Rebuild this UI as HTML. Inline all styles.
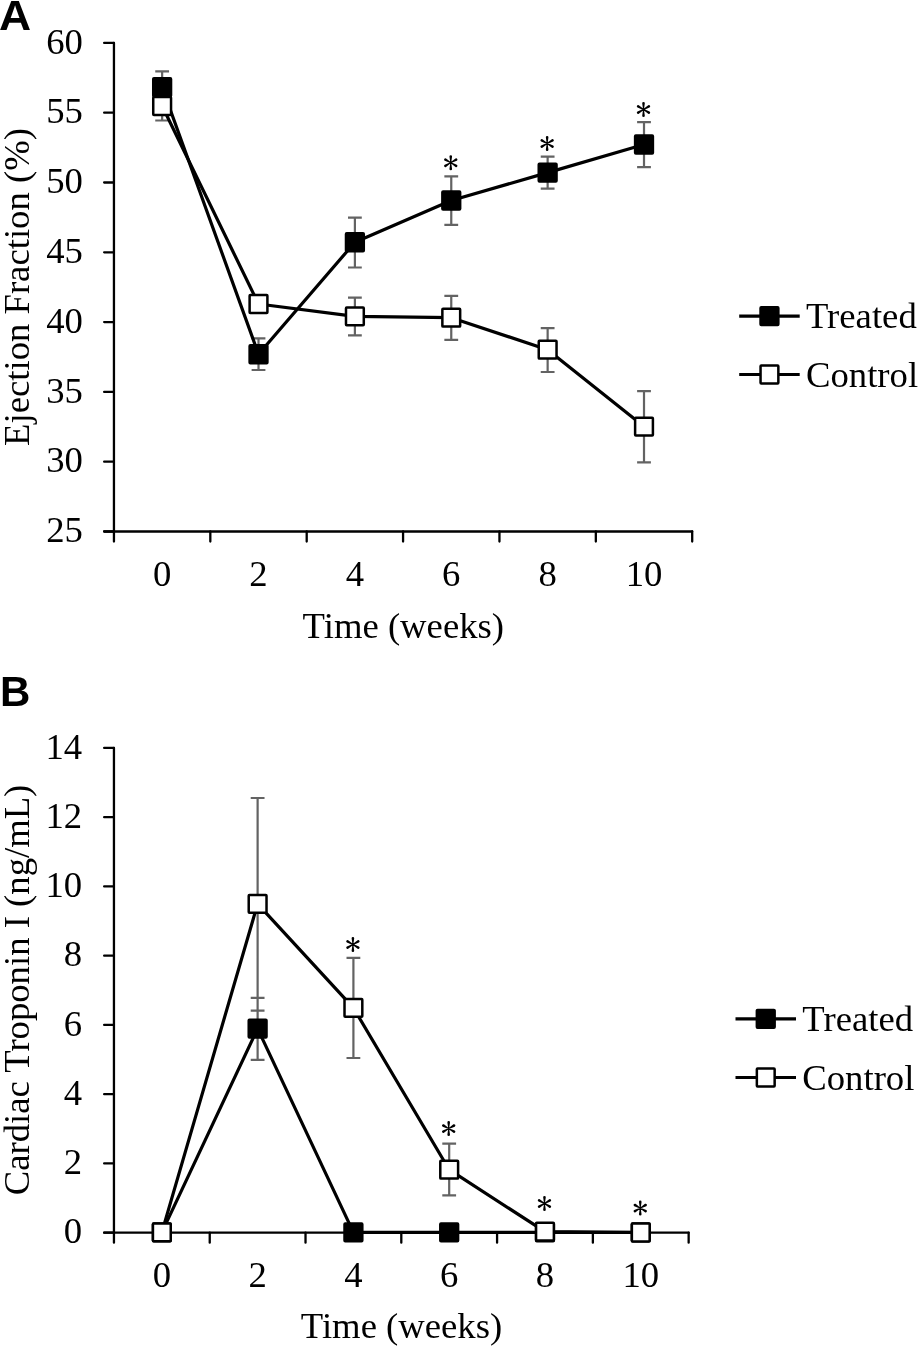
<!DOCTYPE html>
<html><head><meta charset="utf-8"><style>
html,body{margin:0;padding:0;background:#fff;}
body{width:918px;height:1347px;overflow:hidden;position:relative;}
svg{position:absolute;left:0;top:0;will-change:transform;}
.t{font-family:"Liberation Serif",serif;font-size:36.7px;fill:#000;}
.lab{font-family:"Liberation Sans",sans-serif;font-weight:bold;font-size:42px;fill:#000;}
</style></head><body>
<svg width="918" height="1347" viewBox="0 0 918 1347">
<text transform="translate(-0.9 30) scale(1.06 1)" class="lab">A</text>
<text x="0.1" y="706.1" class="lab">B</text>
<path d="M113.95 42.9V531.5M104.15 531.5H692.2" fill="none" stroke="#000" stroke-width="2.3" stroke-linecap="round" stroke-linejoin="round"/>
<path d="M104.15 531.50H113.95M104.15 461.70H113.95M104.15 391.90H113.95M104.15 322.10H113.95M104.15 252.30H113.95M104.15 182.50H113.95M104.15 112.70H113.95M104.15 42.90H113.95M113.95 531.5V541.5M210.32 531.5V541.5M306.70 531.5V541.5M403.07 531.5V541.5M499.45 531.5V541.5M595.83 531.5V541.5M692.20 531.5V541.5" fill="none" stroke="#000" stroke-width="2.3" stroke-linecap="round" stroke-linejoin="round"/>
<text x="82.9" y="542.20" text-anchor="end" class="t">25</text>
<text x="82.9" y="472.40" text-anchor="end" class="t">30</text>
<text x="82.9" y="402.60" text-anchor="end" class="t">35</text>
<text x="82.9" y="332.80" text-anchor="end" class="t">40</text>
<text x="82.9" y="263.00" text-anchor="end" class="t">45</text>
<text x="82.9" y="193.20" text-anchor="end" class="t">50</text>
<text x="82.9" y="123.40" text-anchor="end" class="t">55</text>
<text x="82.9" y="53.60" text-anchor="end" class="t">60</text>
<text x="162.14" y="585.7" text-anchor="middle" class="t">0</text>
<text x="258.51" y="585.7" text-anchor="middle" class="t">2</text>
<text x="354.89" y="585.7" text-anchor="middle" class="t">4</text>
<text x="451.26" y="585.7" text-anchor="middle" class="t">6</text>
<text x="547.64" y="585.7" text-anchor="middle" class="t">8</text>
<text x="644.01" y="585.7" text-anchor="middle" class="t">10</text>
<path d="M162.14 106.00V120.50M155.24 120.50h13.8M354.89 316.35V297.70M347.99 297.70h13.8M354.89 316.35V335.30M347.99 335.30h13.8M451.26 317.70V295.80M444.36 295.80h13.8M451.26 317.70V339.90M444.36 339.90h13.8M547.64 349.70V328.20M540.74 328.20h13.8M547.64 349.70V372.00M540.74 372.00h13.8M644.01 426.60V391.20M637.11 391.20h13.8M644.01 426.60V462.30M637.11 462.30h13.8M162.14 87.20V71.40M155.24 71.40h13.8M258.51 354.25V338.40M251.61 338.40h13.8M258.51 354.25V370.00M251.61 370.00h13.8M354.89 242.25V217.60M347.99 217.60h13.8M354.89 242.25V267.50M347.99 267.50h13.8M451.26 200.50V176.40M444.36 176.40h13.8M451.26 200.50V224.80M444.36 224.80h13.8M547.64 172.60V156.70M540.74 156.70h13.8M547.64 172.60V188.60M540.74 188.60h13.8M644.01 144.50V122.20M637.11 122.20h13.8M644.01 144.50V167.20M637.11 167.20h13.8" fill="none" stroke="#636363" stroke-width="2.2"/>
<polyline points="162.14,87.20 258.51,354.25 354.89,242.25 451.26,200.50 547.64,172.60 644.01,144.50" fill="none" stroke="#000" stroke-width="3.2" stroke-linejoin="round"/>
<polyline points="162.14,106.00 258.51,304.00 354.89,316.35 451.26,317.70 547.64,349.70 644.01,426.60" fill="none" stroke="#000" stroke-width="3.2" stroke-linejoin="round"/>
<rect x="153.24" y="78.30" width="17.8" height="17.8" rx="0.7" fill="#000" stroke="#000" stroke-width="2.5"/>
<rect x="249.61" y="345.35" width="17.8" height="17.8" rx="0.7" fill="#000" stroke="#000" stroke-width="2.5"/>
<rect x="345.99" y="233.35" width="17.8" height="17.8" rx="0.7" fill="#000" stroke="#000" stroke-width="2.5"/>
<rect x="442.36" y="191.60" width="17.8" height="17.8" rx="0.7" fill="#000" stroke="#000" stroke-width="2.5"/>
<rect x="538.74" y="163.70" width="17.8" height="17.8" rx="0.7" fill="#000" stroke="#000" stroke-width="2.5"/>
<rect x="635.11" y="135.60" width="17.8" height="17.8" rx="0.7" fill="#000" stroke="#000" stroke-width="2.5"/>
<rect x="153.24" y="97.10" width="17.8" height="17.8" rx="0.7" fill="#fff" stroke="#000" stroke-width="2.5"/>
<rect x="249.61" y="295.10" width="17.8" height="17.8" rx="0.7" fill="#fff" stroke="#000" stroke-width="2.5"/>
<rect x="345.99" y="307.45" width="17.8" height="17.8" rx="0.7" fill="#fff" stroke="#000" stroke-width="2.5"/>
<rect x="442.36" y="308.80" width="17.8" height="17.8" rx="0.7" fill="#fff" stroke="#000" stroke-width="2.5"/>
<rect x="538.74" y="340.80" width="17.8" height="17.8" rx="0.7" fill="#fff" stroke="#000" stroke-width="2.5"/>
<rect x="635.11" y="417.70" width="17.8" height="17.8" rx="0.7" fill="#fff" stroke="#000" stroke-width="2.5"/>
<path d="M451.21 162.70L452.06 156.50A1.30 1.30 0 0 0 449.46 156.50L450.31 162.70ZM450.31 162.70L449.46 168.90A1.30 1.30 0 0 0 452.06 168.90L451.21 162.70ZM450.99 163.09L456.78 160.73A1.30 1.30 0 0 0 455.48 158.47L450.54 162.31ZM450.54 162.31L444.74 164.67A1.30 1.30 0 0 0 446.04 166.93L450.99 163.09ZM450.54 163.09L455.48 166.93A1.30 1.30 0 0 0 456.78 164.67L450.99 162.31ZM450.99 162.31L446.04 158.47A1.30 1.30 0 0 0 444.74 160.73L450.54 163.09Z" fill="#000"/>
<path d="M547.59 143.50L548.44 137.30A1.30 1.30 0 0 0 545.84 137.30L546.69 143.50ZM546.69 143.50L545.84 149.70A1.30 1.30 0 0 0 548.44 149.70L547.59 143.50ZM547.36 143.89L553.16 141.53A1.30 1.30 0 0 0 551.86 139.27L546.91 143.11ZM546.91 143.11L541.12 145.47A1.30 1.30 0 0 0 542.42 147.73L547.36 143.89ZM546.91 143.89L551.86 147.73A1.30 1.30 0 0 0 553.16 145.47L547.36 143.11ZM547.36 143.11L542.42 139.27A1.30 1.30 0 0 0 541.12 141.53L546.91 143.89Z" fill="#000"/>
<path d="M643.96 109.50L644.81 103.30A1.30 1.30 0 0 0 642.21 103.30L643.06 109.50ZM643.06 109.50L642.21 115.70A1.30 1.30 0 0 0 644.81 115.70L643.96 109.50ZM643.74 109.89L649.53 107.53A1.30 1.30 0 0 0 648.23 105.27L643.29 109.11ZM643.29 109.11L637.49 111.47A1.30 1.30 0 0 0 638.79 113.73L643.74 109.89ZM643.29 109.89L648.23 113.73A1.30 1.30 0 0 0 649.53 111.47L643.74 109.11ZM643.74 109.11L638.79 105.27A1.30 1.30 0 0 0 637.49 107.53L643.29 109.89Z" fill="#000"/>
<path d="M739.2 316.1h60.5" stroke="#000" stroke-width="3.2"/>
<rect x="760.5500000000001" y="307.20000000000005" width="17.8" height="17.8" rx="0.7" fill="#000" stroke="#000" stroke-width="2.5"/>
<text x="806.0" y="327.90000000000003" class="t">Treated</text>
<path d="M739.2 374.5h60.5" stroke="#000" stroke-width="3.2"/>
<rect x="760.5500000000001" y="365.6" width="17.8" height="17.8" rx="0.7" fill="#fff" stroke="#000" stroke-width="2.5"/>
<text x="806.0" y="387.1" class="t">Control</text>
<text x="403.3" y="638" text-anchor="middle" class="t">Time (weeks)</text>
<text transform="translate(29.0 287) rotate(-90)" text-anchor="middle" class="t">Ejection Fraction (%)</text>
<path d="M113.95 747.9V1232.65M104.15 1232.65H688.65" fill="none" stroke="#000" stroke-width="2.3" stroke-linecap="round" stroke-linejoin="round"/>
<path d="M104.15 1232.65H113.95M104.15 1163.40H113.95M104.15 1094.15H113.95M104.15 1024.90H113.95M104.15 955.65H113.95M104.15 886.40H113.95M104.15 817.15H113.95M104.15 747.90H113.95M113.95 1232.65V1242.65M209.73 1232.65V1242.65M305.52 1232.65V1242.65M401.30 1232.65V1242.65M497.08 1232.65V1242.65M592.87 1232.65V1242.65M688.65 1232.65V1242.65" fill="none" stroke="#000" stroke-width="2.3" stroke-linecap="round" stroke-linejoin="round"/>
<text x="82.2" y="1243.35" text-anchor="end" class="t">0</text>
<text x="82.2" y="1174.10" text-anchor="end" class="t">2</text>
<text x="82.2" y="1104.85" text-anchor="end" class="t">4</text>
<text x="82.2" y="1035.60" text-anchor="end" class="t">6</text>
<text x="82.2" y="966.35" text-anchor="end" class="t">8</text>
<text x="82.2" y="897.10" text-anchor="end" class="t">10</text>
<text x="82.2" y="827.85" text-anchor="end" class="t">12</text>
<text x="82.2" y="758.60" text-anchor="end" class="t">14</text>
<text x="161.84" y="1287" text-anchor="middle" class="t">0</text>
<text x="257.62" y="1287" text-anchor="middle" class="t">2</text>
<text x="353.41" y="1287" text-anchor="middle" class="t">4</text>
<text x="449.19" y="1287" text-anchor="middle" class="t">6</text>
<text x="544.97" y="1287" text-anchor="middle" class="t">8</text>
<text x="640.76" y="1287" text-anchor="middle" class="t">10</text>
<path d="M257.62 903.90V798.00M250.72 798.00h13.8M257.62 903.90V1010.60M250.72 1010.60h13.8M353.41 1007.90V957.80M346.51 957.80h13.8M353.41 1007.90V1058.00M346.51 1058.00h13.8M449.19 1169.70V1143.60M442.29 1143.60h13.8M449.19 1169.70V1195.40M442.29 1195.40h13.8M257.62 1028.60V997.90M250.72 997.90h13.8M257.62 1028.60V1059.80M250.72 1059.80h13.8" fill="none" stroke="#636363" stroke-width="2.2"/>
<polyline points="161.84,1232.40 257.62,1028.60 353.41,1232.40 449.19,1232.40 544.97,1232.40 640.76,1232.40" fill="none" stroke="#000" stroke-width="3.2" stroke-linejoin="round"/>
<polyline points="161.84,1232.35 257.62,903.90 353.41,1007.90 449.19,1169.70 544.97,1231.70 640.76,1232.50" fill="none" stroke="#000" stroke-width="3.2" stroke-linejoin="round"/>
<rect x="152.94" y="1223.50" width="17.8" height="17.8" rx="0.7" fill="#000" stroke="#000" stroke-width="2.5"/>
<rect x="248.72" y="1019.70" width="17.8" height="17.8" rx="0.7" fill="#000" stroke="#000" stroke-width="2.5"/>
<rect x="344.51" y="1223.50" width="17.8" height="17.8" rx="0.7" fill="#000" stroke="#000" stroke-width="2.5"/>
<rect x="440.29" y="1223.50" width="17.8" height="17.8" rx="0.7" fill="#000" stroke="#000" stroke-width="2.5"/>
<rect x="536.07" y="1223.50" width="17.8" height="17.8" rx="0.7" fill="#000" stroke="#000" stroke-width="2.5"/>
<rect x="631.86" y="1223.50" width="17.8" height="17.8" rx="0.7" fill="#000" stroke="#000" stroke-width="2.5"/>
<rect x="152.94" y="1223.45" width="17.8" height="17.8" rx="0.7" fill="#fff" stroke="#000" stroke-width="2.5"/>
<rect x="248.72" y="895.00" width="17.8" height="17.8" rx="0.7" fill="#fff" stroke="#000" stroke-width="2.5"/>
<rect x="344.51" y="999.00" width="17.8" height="17.8" rx="0.7" fill="#fff" stroke="#000" stroke-width="2.5"/>
<rect x="440.29" y="1160.80" width="17.8" height="17.8" rx="0.7" fill="#fff" stroke="#000" stroke-width="2.5"/>
<rect x="536.07" y="1222.80" width="17.8" height="17.8" rx="0.7" fill="#fff" stroke="#000" stroke-width="2.5"/>
<rect x="631.86" y="1223.60" width="17.8" height="17.8" rx="0.7" fill="#fff" stroke="#000" stroke-width="2.5"/>
<path d="M353.36 944.50L354.21 938.30A1.30 1.30 0 0 0 351.61 938.30L352.46 944.50ZM352.46 944.50L351.61 950.70A1.30 1.30 0 0 0 354.21 950.70L353.36 944.50ZM353.13 944.89L358.93 942.53A1.30 1.30 0 0 0 357.63 940.27L352.68 944.11ZM352.68 944.11L346.89 946.47A1.30 1.30 0 0 0 348.19 948.73L353.13 944.89ZM352.68 944.89L357.63 948.73A1.30 1.30 0 0 0 358.93 946.47L353.13 944.11ZM353.13 944.11L348.19 940.27A1.30 1.30 0 0 0 346.89 942.53L352.68 944.89Z" fill="#000"/>
<path d="M449.14 1128.60L449.99 1122.40A1.30 1.30 0 0 0 447.39 1122.40L448.24 1128.60ZM448.24 1128.60L447.39 1134.80A1.30 1.30 0 0 0 449.99 1134.80L449.14 1128.60ZM448.92 1128.99L454.71 1126.63A1.30 1.30 0 0 0 453.41 1124.37L448.47 1128.21ZM448.47 1128.21L442.67 1130.57A1.30 1.30 0 0 0 443.97 1132.83L448.92 1128.99ZM448.47 1128.99L453.41 1132.83A1.30 1.30 0 0 0 454.71 1130.57L448.92 1128.21ZM448.92 1128.21L443.97 1124.37A1.30 1.30 0 0 0 442.67 1126.63L448.47 1128.99Z" fill="#000"/>
<path d="M544.92 1203.50L545.77 1197.30A1.30 1.30 0 0 0 543.17 1197.30L544.02 1203.50ZM544.02 1203.50L543.17 1209.70A1.30 1.30 0 0 0 545.77 1209.70L544.92 1203.50ZM544.70 1203.89L550.49 1201.53A1.30 1.30 0 0 0 549.19 1199.27L544.25 1203.11ZM544.25 1203.11L538.46 1205.47A1.30 1.30 0 0 0 539.76 1207.73L544.70 1203.89ZM544.25 1203.89L549.19 1207.73A1.30 1.30 0 0 0 550.49 1205.47L544.70 1203.11ZM544.70 1203.11L539.76 1199.27A1.30 1.30 0 0 0 538.46 1201.53L544.25 1203.89Z" fill="#000"/>
<path d="M640.71 1208.10L641.56 1201.90A1.30 1.30 0 0 0 638.96 1201.90L639.81 1208.10ZM639.81 1208.10L638.96 1214.30A1.30 1.30 0 0 0 641.56 1214.30L640.71 1208.10ZM640.48 1208.49L646.28 1206.13A1.30 1.30 0 0 0 644.98 1203.87L640.03 1207.71ZM640.03 1207.71L634.24 1210.07A1.30 1.30 0 0 0 635.54 1212.33L640.48 1208.49ZM640.03 1208.49L644.98 1212.33A1.30 1.30 0 0 0 646.28 1210.07L640.48 1207.71ZM640.48 1207.71L635.54 1203.87A1.30 1.30 0 0 0 634.24 1206.13L640.03 1208.49Z" fill="#000"/>
<path d="M735.5 1018.8h60.5" stroke="#000" stroke-width="3.2"/>
<rect x="756.85" y="1009.9" width="17.8" height="17.8" rx="0.7" fill="#000" stroke="#000" stroke-width="2.5"/>
<text x="802.3" y="1030.6" class="t">Treated</text>
<path d="M735.5 1077.5h60.5" stroke="#000" stroke-width="3.2"/>
<rect x="756.85" y="1068.6" width="17.8" height="17.8" rx="0.7" fill="#fff" stroke="#000" stroke-width="2.5"/>
<text x="802.3" y="1090.1" class="t">Control</text>
<text x="401.5" y="1338" text-anchor="middle" class="t">Time (weeks)</text>
<text transform="translate(29.0 990) rotate(-90)" text-anchor="middle" class="t">Cardiac Troponin I (ng/mL)</text>
</svg>
</body></html>
